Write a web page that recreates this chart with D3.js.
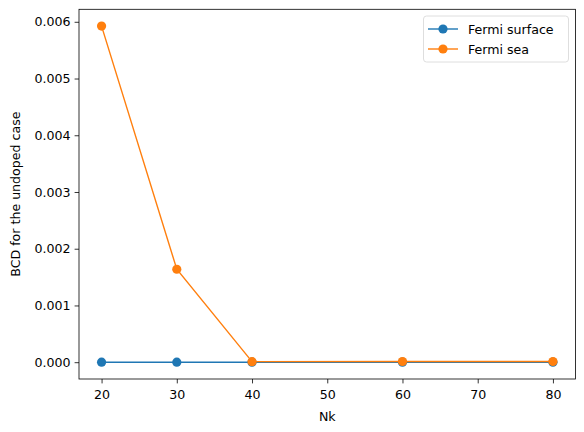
<!DOCTYPE html>
<html>
<head>
<meta charset="utf-8">
<script src="https://cdn.jsdelivr.net/npm/d3@7"></script>
<style>
  body { margin: 0; background: #fff; }
  text { font-family: "DejaVu Sans", sans-serif; }
</style>
</head>
<body>
<script>
// values
const nk = [20, 30, 40, 60, 80];
const fermiSurface = [0, 0, 0, 0, 0];
const fermiSea = [0.005924, 0.001638, 0.00001, 0.000012, 0.000012];
const xTicks = [20, 30, 40, 50, 60, 70, 80];
const yTicks = [0, 0.001, 0.002, 0.003, 0.004, 0.005, 0.006];

const W = 584, H = 432;
const plotLeft = 79, plotRight = 575.5, plotTop = 9.3, plotBottom = 379;
const fontSize = 12.6;

let svg = d3.select("body").append("svg")
  .attr("width", W).attr("height", H);

// matplotlib style 5% margins
let xPad = (d3.max(nk) - d3.min(nk)) * 0.05;
let x = d3.scaleLinear()
  .domain([d3.min(nk) - xPad, d3.max(nk) + xPad])
  .range([plotLeft, plotRight]);

let allY = fermiSurface.concat(fermiSea);
let yPad = (d3.max(allY) - d3.min(allY)) * 0.05;
let y = d3.scaleLinear()
  .domain([d3.min(allY) - yPad, d3.max(allY) + yPad])
  .range([plotBottom, plotTop]);

// axes
let xAxis = svg.append("g")
  .attr("transform", "translate(0," + plotBottom + ")")
  .call(d3.axisBottom(x).tickValues(xTicks).tickSize(4.4).tickPadding(6.5).tickFormat(d3.format("d")));
let yAxis = svg.append("g")
  .attr("transform", "translate(" + plotLeft + ",0)")
  .call(d3.axisLeft(y).tickValues(yTicks).tickSize(4.4).tickPadding(4).tickFormat(d3.format(".3f")));

[xAxis, yAxis].forEach(function(a){
  a.select(".domain").remove();
  a.selectAll("line").attr("stroke", "#000").attr("stroke-width", 0.8);
  a.selectAll("text").attr("font-size", fontSize).attr("fill", "#000")
    .attr("font-family", "DejaVu Sans");
});

// frame
svg.append("rect")
  .attr("x", plotLeft).attr("y", plotTop)
  .attr("width", plotRight - plotLeft).attr("height", plotBottom - plotTop)
  .attr("fill", "none").attr("stroke", "#000").attr("stroke-width", 0.8);

// series
const series = [
  {name: "Fermi surface", values: fermiSurface, color: "#1f77b4"},
  {name: "Fermi sea", values: fermiSea, color: "#ff7f0e"}
];

let line = d3.line()
  .x(function(d){ return x(d.x); })
  .y(function(d){ return y(d.y); });

series.forEach(function(s){
  let pts = nk.map(function(n, i){ return {x: n, y: s.values[i]}; });
  let g = svg.append("g");
  g.append("path")
    .datum(pts)
    .attr("d", line)
    .attr("fill", "none")
    .attr("stroke", s.color)
    .attr("stroke-width", 1.4);
  g.selectAll("circle").data(pts).enter()
    .append("circle")
    .attr("cx", function(d){ return x(d.x); })
    .attr("cy", function(d){ return y(d.y); })
    .attr("r", 4.6)
    .attr("fill", s.color);
});

// axis labels
svg.append("text")
  .attr("x", (plotLeft + plotRight) / 2).attr("y", 421)
  .attr("text-anchor", "middle")
  .attr("font-size", fontSize)
  .text("Nk");

svg.append("text")
  .attr("transform", "translate(20," + ((plotTop + plotBottom) / 2) + ") rotate(-90)")
  .attr("text-anchor", "middle")
  .attr("font-size", fontSize)
  .text("BCD for the undoped case");

// legend
let legend = svg.append("g");
legend.append("rect")
  .attr("x", 423.5).attr("y", 16)
  .attr("width", 145).attr("height", 46)
  .attr("rx", 3)
  .attr("fill", "#fff").attr("fill-opacity", 0.8)
  .attr("stroke", "#d6d6d6").attr("stroke-width", 0.8);

series.forEach(function(s, i){
  let ly = 29 + i * 20;
  legend.append("line")
    .attr("x1", 428).attr("x2", 458)
    .attr("y1", ly).attr("y2", ly)
    .attr("stroke", s.color).attr("stroke-width", 1.4);
  legend.append("circle")
    .attr("cx", 443).attr("cy", ly).attr("r", 4.6)
    .attr("fill", s.color);
  legend.append("text")
    .attr("x", 468).attr("y", ly + 4.5)
    .attr("font-size", fontSize)
    .text(s.name);
});
</script>
</body>
</html>
